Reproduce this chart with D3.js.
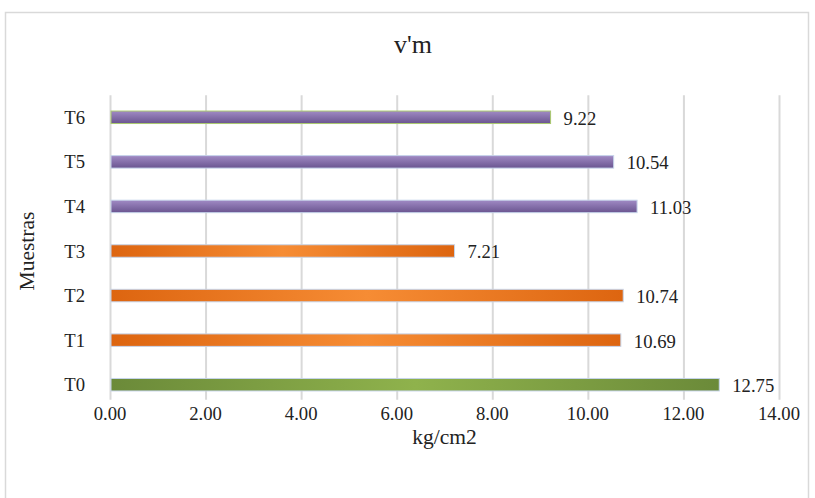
<!DOCTYPE html>
<html>
<head>
<meta charset="utf-8">
<script src="https://cdn.jsdelivr.net/npm/d3@7"></script>
</head>
<body style="margin:0">
<svg id="chart" width="815" height="498" font-family="Liberation Serif"></svg>
<script>
const categories = ["T0", "T1", "T2", "T3", "T4", "T5", "T6"];
const values = [12.75, 10.69, 10.74, 7.21, 11.03, 10.54, 9.22];
const groups = ["green", "orange", "orange", "orange", "purple", "purple", "purple"];
const xTicks = [0, 2, 4, 6, 8, 10, 12, 14];
const title = "v'm";
const xTitle = "kg/cm2";
const yTitle = "Muestras";

const svg = d3.select("#chart");
const W = 815, H = 498;
const m = { left: 110, right: 36, top: 95, bottom: 91 };

function serif(sel, size) {
  sel.style("font-family", '"Liberation Serif"')
     .style("font-size", size + "px")
     .attr("fill", "#222");
}

const defs = svg.append("defs");
function hGrad(id, edge, mid) {
  const g = defs.append("linearGradient").attr("id", id).attr("x1", "0").attr("x2", "1").attr("y1", "0").attr("y2", "0");
  g.append("stop").attr("offset", "0%").attr("stop-color", edge);
  g.append("stop").attr("offset", "50%").attr("stop-color", mid);
  g.append("stop").attr("offset", "100%").attr("stop-color", edge);
}
hGrad("g-orange", "#dd6510", "#f68c34");
hGrad("g-green", "#6b8a39", "#8fb24c");
const gp = defs.append("linearGradient").attr("id", "g-purple").attr("x1", "0").attr("x2", "0").attr("y1", "0").attr("y2", "1");
gp.append("stop").attr("offset", "0%").attr("stop-color", "#a08ac4");
gp.append("stop").attr("offset", "100%").attr("stop-color", "#6a5590");

svg.append("rect").attr("x", 5.5).attr("y", 12.5).attr("width", 803).attr("height", 520)
  .attr("fill", "#fff").attr("stroke", "#d9d9d9").attr("stroke-width", 1.5);

const x = d3.scaleLinear().domain([0, 14]).range([m.left, W - m.right]);
const y = d3.scaleBand().domain(categories.slice().reverse()).range([m.top, H - m.bottom]).paddingInner(0.72).paddingOuter(0.36);

const gridTop = y("T6") + y.bandwidth() / 2 - 22;
const gridBottom = y("T0") + y.bandwidth() / 2 + 15;

svg.append("g").selectAll("line").data(xTicks).join("line")
  .attr("x1", d => x(d) + 0.5).attr("x2", d => x(d) + 0.5)
  .attr("y1", gridTop).attr("y2", gridBottom)
  .attr("stroke", "#d9d9d9").attr("stroke-width", 2);

// x tick labels drawn as plain text from the scale
svg.append("g").selectAll("text").data(xTicks).join("text")
  .attr("x", d => x(d)).attr("y", gridBottom + 20)
  .attr("text-anchor", "middle")
  .call(serif, 18.67)
  .text(d => d3.format(".2f")(d));

// y labels
svg.append("g").selectAll("text").data(categories).join("text")
  .attr("x", m.left - 25).attr("y", d => y(d) + y.bandwidth() / 2).attr("dy", "0.35em")
  .attr("text-anchor", "end")
  .call(serif, 18.67)
  .text(d => d);

const data = categories.map((c, i) => ({ c, v: values[i], g: groups[i] }));
svg.append("g").selectAll("rect").data(data).join("rect")
  .attr("x", x(0) + 1)
  .attr("y", d => y(d.c))
  .attr("width", d => x(d.v) - x(0) - 1)
  .attr("height", y.bandwidth())
  .attr("fill", d => `url(#g-${d.g})`)
  .attr("stroke", d => d.c === "T6" ? "#a9c96e" : "#c6d4ea")
  .attr("stroke-width", 1);

svg.append("g").selectAll("text").data(data).join("text")
  .attr("x", d => x(d.v) + 13)
  .attr("y", d => y(d.c) + y.bandwidth() / 2)
  .attr("dy", "0.4em")
  .call(serif, 18.67)
  .text(d => d.v.toFixed(2));

svg.append("text").attr("x", 413).attr("y", 53).attr("text-anchor", "middle")
  .call(serif, 26).text(title);
svg.append("text").attr("x", (x(0) + x(14)) / 2).attr("y", 444).attr("text-anchor", "middle")
  .call(serif, 21.5).text(xTitle);
svg.append("text").attr("transform", `translate(34,${(m.top + H - m.bottom) / 2}) rotate(-90)`)
  .attr("text-anchor", "middle").call(serif, 21.5).text(yTitle);
</script>
</body>
</html>
